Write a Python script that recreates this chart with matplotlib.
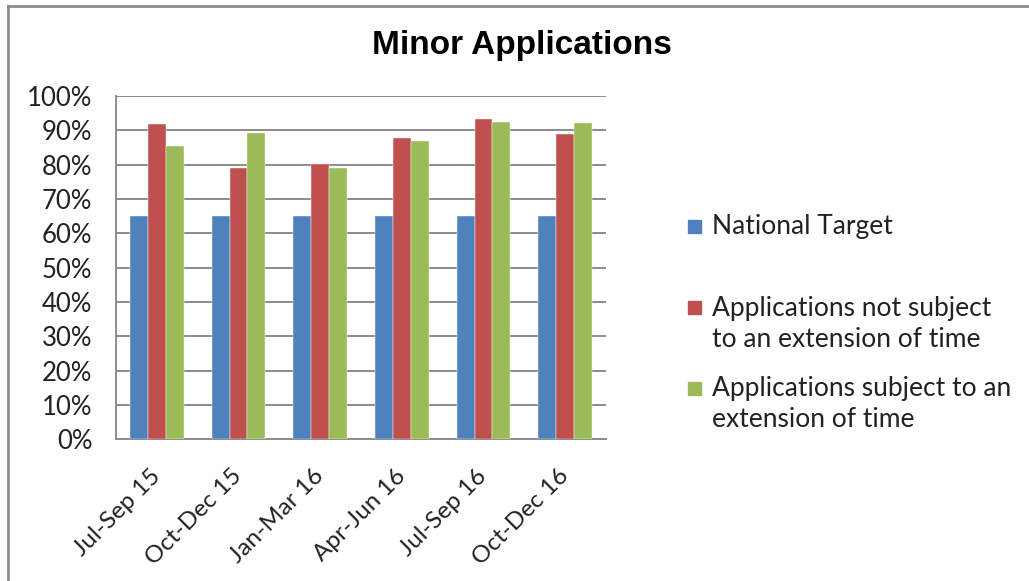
import matplotlib
matplotlib.use("Agg")
import matplotlib.pyplot as plt
import numpy as np
from matplotlib.lines import Line2D
from matplotlib.patches import Rectangle
import matplotlib.transforms as mtransforms

quarters = ["Jul-Sep 15", "Oct-Dec 15", "Jan-Mar 16", "Apr-Jun 16", "Jul-Sep 16", "Oct-Dec 16"]
national_target = [65, 65, 65, 65, 65, 65]
not_extended = [91.8, 79.1, 80.3, 87.7, 93.3, 88.8]
extended = [85.4, 89.2, 79.1, 87.0, 92.5, 92.2]

series_names = ["National Target",
                "Applications not subject\nto an extension of time",
                "Applications subject to an\nextension of time"]
colors = ["#4f81bd", "#c0504d", "#9bbb59"]

plt.rcParams["font.family"] = ["Lato", "DejaVu Sans"]

fig = plt.figure(figsize=(10.29, 5.81), dpi=100)
ax = fig.add_axes([0.1127, 0.2439, 0.4762, 0.5909])

x = np.arange(len(quarters))
w = 0.218
for i, vals in enumerate([national_target, not_extended, extended]):
    ax.bar(x + (i - 1) * w, vals, w, color=colors[i], zorder=3,
           edgecolor="white", linewidth=0.3)

ax.set_xlim(-0.5, len(quarters) - 0.5)
ax.set_ylim(0, 100)
ax.set_yticks(np.arange(0, 101, 10))
ax.set_yticklabels([f"{v}%" for v in range(0, 101, 10)], fontsize=18.5,
                   color="#222222")
ax.set_xticks(x)
ax.set_xticklabels(quarters, rotation=45, ha="right", va="center",
                   rotation_mode="anchor", fontsize=17.5, color="#222222")
shift = mtransforms.ScaledTranslation(5 / 100, 2 / 100, fig.dpi_scale_trans)
for lab in ax.get_xticklabels():
    lab.set_transform(lab.get_transform() + shift)
ax.tick_params(length=0)
ax.tick_params(axis="y", pad=17)
ax.tick_params(axis="x", pad=24)
ax.grid(axis="y", color="#8c8c8c", linewidth=1.4, zorder=0)
for side in ["right", "top"]:
    ax.spines[side].set_visible(False)
for side in ["left", "bottom"]:
    ax.spines[side].set_color("#8c8c8c")
    ax.spines[side].set_linewidth(1.4)

fig.text(0.5075, 0.922, "Minor Applications", ha="center", va="center",
         fontsize=24, fontweight="bold", family="Liberation Sans")

# legend entries laid out on the figure
leg_y = [1 - 227 / 581, 1 - 324 / 581, 1 - 404 / 581]
for name, c, y in zip(series_names, colors, leg_y):
    first_y = y + (name.count("\n") * 16) / 581
    fig.add_artist(Rectangle((688 / 1029, first_y - 6.5 / 581), 13 / 1029, 13 / 581,
                             transform=fig.transFigure, color=c))
    fig.text(712 / 1029, y, name, ha="left", va="center", fontsize=19,
             linespacing=1.33, color="#222222")

# chart frame: top and left edges
fig.add_artist(Line2D([8 / 1029, 1], [1 - 6 / 581, 1 - 6 / 581],
                      transform=fig.transFigure, color="#8c8c8c", linewidth=2))
fig.add_artist(Line2D([8 / 1029, 8 / 1029], [0, 1 - 6 / 581],
                      transform=fig.transFigure, color="#8c8c8c", linewidth=2))

fig.savefig("out.png", dpi=100)
